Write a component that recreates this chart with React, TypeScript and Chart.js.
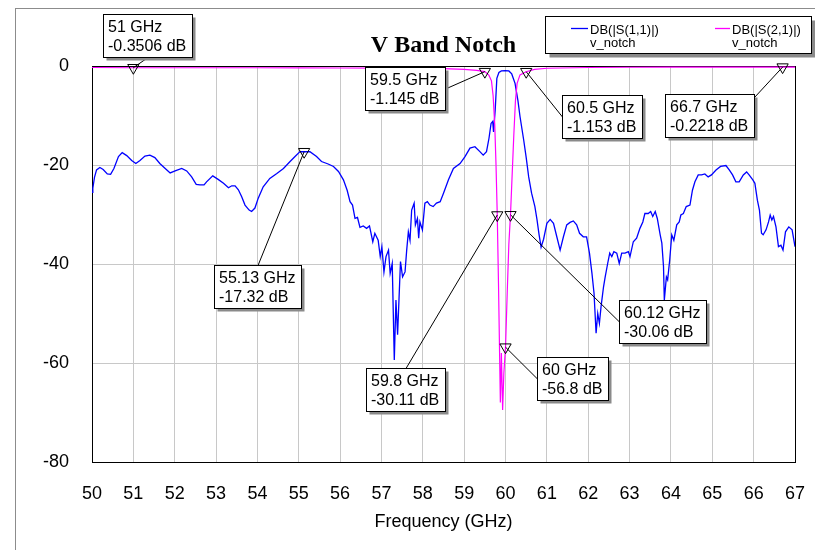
import React, { useEffect, useRef } from "react";
import { Chart, registerables } from "chart.js";

Chart.register(...registerables);

// ---------- data ----------
const TITLE = "V Band Notch";
const X_TITLE = "Frequency (GHz)";
const SERIES_NAMES = ["DB(|S(1,1)|)", "DB(|S(2,1)|)"];
const SERIES_SOURCE = "v_notch";

const X_TICKS = [50, 51, 52, 53, 54, 55, 56, 57, 58, 59, 60, 61, 62, 63, 64, 65, 66, 67];
const Y_TICKS = [0, -20, -40, -60, -80];

const S11_FREQ = [
  50.0, 50.02, 50.06, 50.11, 50.19, 50.27, 50.37, 50.45, 50.53, 50.64, 50.73, 50.84, 50.96, 51.06, 51.16, 51.28,
  51.4, 51.52, 51.64, 51.77, 51.89, 52.01, 52.17, 52.29, 52.41, 52.52, 52.61, 52.71, 52.77, 52.92, 53.05, 53.18,
  53.3, 53.38, 53.46, 53.54, 53.62, 53.7, 53.8, 53.86, 53.94, 54.02, 54.14, 54.3, 54.47, 54.63, 54.79, 54.91,
  55.03, 55.13, 55.27, 55.43, 55.55, 55.71, 55.84, 55.96, 56.08, 56.17, 56.24, 56.3, 56.36, 56.42, 56.48, 56.56,
  56.64, 56.71, 56.79, 56.84, 56.92, 56.97, 57.01, 57.06, 57.11, 57.17, 57.21, 57.26, 57.31, 57.35, 57.39, 57.46,
  57.51, 57.57, 57.61, 57.65, 57.69, 57.73, 57.79, 57.82, 57.87, 57.9, 57.93, 57.99, 58.05, 58.11, 58.17, 58.25,
  58.33, 58.42, 58.5, 58.62, 58.74, 58.9, 59.02, 59.14, 59.26, 59.38, 59.46, 59.54, 59.6, 59.65, 59.69, 59.71,
  59.75, 59.79, 59.84, 59.9, 59.99, 60.08, 60.15, 60.23, 60.3, 60.35, 60.44, 60.5, 60.56, 60.63, 60.71, 60.76,
  60.81, 60.86, 60.92, 61.0, 61.08, 61.16, 61.24, 61.32, 61.4, 61.48, 61.56, 61.64, 61.72, 61.79, 61.88, 61.96,
  62.03, 62.09, 62.14, 62.19, 62.23, 62.27, 62.31, 62.37, 62.41, 62.47, 62.52, 62.57, 62.62, 62.69, 62.75, 62.81,
  62.89, 62.97, 63.01, 63.09, 63.17, 63.25, 63.32, 63.37, 63.45, 63.51, 63.56, 63.62, 63.67, 63.74, 63.78, 63.82,
  63.84, 63.89, 63.92, 63.97, 64.02, 64.07, 64.14, 64.2, 64.24, 64.3, 64.37, 64.46, 64.52, 64.58, 64.66, 64.74,
  64.82, 64.9, 64.98, 65.09, 65.2, 65.33, 65.41, 65.49, 65.57, 65.65, 65.75, 65.83, 65.89, 65.98, 66.03, 66.09,
  66.14, 66.19, 66.23, 66.3, 66.36, 66.4, 66.44, 66.48, 66.54, 66.6, 66.66, 66.71, 66.77, 66.85, 66.93, 67.0,
];
const S11_DB = [
  -25.5, -24.7, -22.5, -21.0, -20.5, -20.9, -21.8, -21.9, -20.7, -18.3, -17.5, -18.1, -19.1, -19.7, -19.1, -18.2,
  -18.0, -18.5, -19.7, -20.7, -21.6, -21.2, -20.7, -21.2, -22.4, -23.9, -24.0, -24.0, -23.4, -22.2, -22.9, -23.7,
  -24.6, -24.2, -24.2, -25.0, -26.4, -28.1, -29.1, -29.4, -28.7, -26.7, -24.4, -22.7, -21.7, -20.7, -19.3, -18.3,
  -17.3, -17.32, -17.3, -18.3, -19.3, -19.8, -20.3, -21.3, -23.0, -25.1, -27.4, -28.1, -30.8, -30.6, -32.6, -32.3,
  -32.8, -32.3, -35.5, -33.8, -35.2, -38.5, -36.5, -41.6, -38.5, -37.2, -41.9, -39.9, -59.4, -47.3, -54.3, -39.5,
  -42.6, -41.6, -37.2, -33.5, -35.2, -29.1, -27.7, -32.1, -30.8, -34.8, -31.5, -33.1, -27.7, -27.4, -28.1, -28.4,
  -27.7, -27.4, -25.7, -23.0, -20.7, -19.7, -18.3, -16.6, -16.3, -17.3, -18.0, -17.3, -14.6, -11.6, -11.2, -13.3,
  -8.9, -2.5, -1.3, -1.0, -0.95, -1.0, -1.6, -3.5, -7.0, -10.2, -15.0, -18.5, -22.4, -25.7, -28.4, -31.0,
  -34.0, -36.6, -35.0, -31.8, -31.0, -31.8, -34.5, -37.2, -34.5, -32.1, -31.6, -31.3, -32.1, -33.8, -34.5, -34.5,
  -37.8, -41.9, -45.9, -54.0, -50.0, -52.0, -48.6, -44.6, -42.6, -39.9, -37.8, -38.5, -37.5, -37.8, -39.9, -37.8,
  -37.8, -37.5, -38.5, -35.5, -34.8, -32.8, -31.5, -29.8, -29.8, -29.4, -30.4, -29.4, -30.8, -34.1, -35.8, -40.5,
  -47.3, -42.6, -43.2, -39.2, -34.1, -35.2, -32.1, -31.5, -30.1, -29.8, -28.4, -28.1, -25.1, -23.4, -22.0, -22.0,
  -21.8, -22.4, -22.0, -21.0, -20.3, -20.1, -21.0, -22.0, -23.4, -23.4, -22.0, -21.4, -22.0, -23.0, -23.7, -27.1,
  -29.1, -33.8, -34.1, -33.1, -31.5, -30.1, -31.1, -30.4, -32.5, -36.5, -36.2, -37.2, -33.5, -32.5, -33.1, -36.5,
];

const S21_FREQ = [
  50.0, 51.0, 52.0, 53.0, 54.0, 55.0, 56.0, 57.0, 58.0, 58.5, 59.0, 59.3, 59.5, 59.6, 59.66, 59.7,
  59.74, 59.77, 59.8, 59.83, 59.86, 59.875, 59.9, 59.93, 59.96, 60.0, 60.04, 60.08, 60.12, 60.16, 60.2, 60.24,
  60.28, 60.35, 60.5, 60.7, 61.0, 62.0, 63.0, 64.0, 65.0, 66.0, 66.7, 67.0,
];
const S21_DB = [
  -0.3, -0.35, -0.35, -0.35, -0.35, -0.38, -0.4, -0.42, -0.48, -0.55, -0.7, -0.9, -1.145, -1.9, -3.0, -6.0,
  -12.0, -20.0, -30.11, -44.0, -60.0, -68.0, -58.0, -69.5, -62.0, -56.8, -46.0, -36.0, -30.06, -22.0, -14.0, -7.0,
  -3.5, -1.8, -1.153, -0.7, -0.45, -0.3, -0.25, -0.23, -0.22, -0.22, -0.2218, -0.22,
];

// markers: frequency (GHz), value (dB)
const MARKER_FREQ = [51, 59.5, 60.5, 66.7, 55.13, 59.8, 60, 60.12];
const MARKER_DB = [-0.3506, -1.145, -1.153, -0.2218, -17.32, -30.11, -56.8, -30.06];

// annotation box layout (top-left corner in data coordinates, attach point of the leader)
const BOX_FREQ = [50.266, 56.602, 61.366, 63.857, 52.95, 56.626, 60.761, 62.744];
const BOX_DB = [10.51, -0.2, -5.86, -5.66, -40.2, -61.01, -58.79, -47.27];
const BOX_SIDE = ["bottom", "right", "left", "topright", "top", "top", "left", "left"];

const FONT = "'Liberation Sans', Arial, sans-serif";
const BLUE = "#0000ff";
const MAGENTA = "#ff00ff";

const decorPlugin = {
  id: "decor",
  beforeDraw(chart: any) {
    const ctx = chart.ctx;
    ctx.save();
    ctx.fillStyle = "#ffffff";
    ctx.fillRect(0, 0, chart.width, chart.height);
    ctx.strokeStyle = "#8c8c8c";
    ctx.lineWidth = 1;
    ctx.strokeRect(15.5, 8.5, chart.width + 20, chart.height + 20);
    ctx.restore();
  },
  beforeDatasetsDraw(chart: any) {
    const { ctx, chartArea: a } = chart;
    ctx.save();
    ctx.strokeStyle = "#000";
    ctx.lineWidth = 1;
    ctx.strokeRect(Math.round(a.left) + 0.5, Math.round(a.top) + 0.5, Math.round(a.right - a.left), Math.round(a.bottom - a.top));
    ctx.restore();
  },
  afterDatasetsDraw(chart: any) {
    const { ctx } = chart;
    const xs = chart.scales.x;
    const ys = chart.scales.y;
    ctx.save();
    ctx.font = `16px ${FONT}`;
    const boxes = MARKER_FREQ.map((f, i) => {
      const l1 = `${f} GHz`;
      const l2 = `${MARKER_DB[i]} dB`;
      const w = Math.round(Math.max(ctx.measureText(l1).width, ctx.measureText(l2).width) + 11);
      const h = 43;
      const bx = Math.round(xs.getPixelForValue(BOX_FREQ[i])) + 0.5;
      const by = Math.round(ys.getPixelForValue(BOX_DB[i])) + 0.5;
      const px = xs.getPixelForValue(f);
      const py = ys.getPixelForValue(MARKER_DB[i]);
      let ax = bx + w / 2, ay = by + h / 2;
      const side = BOX_SIDE[i];
      if (side === "bottom") ay = by + h;
      else if (side === "top") ay = by;
      else if (side === "left") ax = bx;
      else if (side === "right") ax = bx + w;
      else if (side === "topright") { ax = bx + w; ay = by + 3; }
      return { l1, l2, w, h, bx, by, px, py, ax, ay };
    });
    // leader lines
    ctx.strokeStyle = "#000";
    ctx.lineWidth = 1;
    boxes.forEach((b) => {
      ctx.beginPath();
      ctx.moveTo(b.px, b.py);
      ctx.lineTo(b.ax, b.ay);
      ctx.stroke();
    });
    // boxes
    boxes.forEach((b) => {
      ctx.fillStyle = "#8a8a8a";
      ctx.fillRect(b.bx + 3, b.by + 3, b.w, b.h);
      ctx.fillStyle = "#fff";
      ctx.fillRect(b.bx, b.by, b.w, b.h);
      ctx.strokeStyle = "#000";
      ctx.strokeRect(b.bx, b.by, b.w, b.h);
      ctx.fillStyle = "#000";
      ctx.textBaseline = "alphabetic";
      ctx.textAlign = "left";
      ctx.fillText(b.l1, b.bx + 4.5, b.by + 17.5);
      ctx.fillText(b.l2, b.bx + 4.5, b.by + 36);
    });

    // legend
    const lx = 545.5, ly = 16.5, lw = 266, lh = 37;
    ctx.fillStyle = "#8a8a8a";
    ctx.fillRect(lx + 4, ly + 4, lw, lh);
    ctx.fillStyle = "#fff";
    ctx.fillRect(lx, ly, lw, lh);
    ctx.strokeStyle = "#000";
    ctx.strokeRect(lx, ly, lw, lh);
    ctx.font = `13px ${FONT}`;
    const cols = [
      { x0: 571, x1: 588, tx: 590, color: BLUE },
      { x0: 715, x1: 730, tx: 732, color: MAGENTA },
    ];
    cols.forEach((c, i) => {
      ctx.strokeStyle = c.color;
      ctx.lineWidth = 1.3;
      ctx.beginPath();
      ctx.moveTo(c.x0, 28.5);
      ctx.lineTo(c.x1, 28.5);
      ctx.stroke();
      ctx.fillStyle = "#000";
      ctx.fillText(SERIES_NAMES[i], c.tx, 33.5);
      ctx.fillText(SERIES_SOURCE, c.tx, 47);
    });

    // title
    ctx.font = "bold 24px 'Liberation Serif', 'Times New Roman', serif";
    ctx.textAlign = "center";
    ctx.fillStyle = "#000";
    ctx.fillText(TITLE, (chart.chartArea.left + chart.chartArea.right) / 2, 52);
    ctx.restore();
  },
};

export default function App() {
  const ref = useRef<HTMLCanvasElement | null>(null);
  useEffect(() => {
    if (!ref.current) return;
    const s11 = S11_FREQ.map((f, i) => ({ x: f, y: S11_DB[i] }));
    const s21 = S21_FREQ.map((f, i) => ({ x: f, y: S21_DB[i] }));
    const mk = MARKER_FREQ.map((f, i) => ({ x: f, y: MARKER_DB[i] }));
    const chart = new Chart(ref.current, {
      type: "line",
      data: {
        datasets: [
          {
            label: SERIES_NAMES[0],
            data: s11,
            borderColor: BLUE,
            borderWidth: 1.3,
            pointRadius: 0,
            tension: 0,
            order: 2,
          },
          {
            label: SERIES_NAMES[1],
            data: s21,
            borderColor: MAGENTA,
            borderWidth: 1.2,
            pointRadius: 0,
            tension: 0,
            order: 1,
          },
          {
            label: "markers",
            data: mk,
            showLine: false,
            pointStyle: "triangle",
            rotation: 180,
            pointRadius: 6.5,
            pointBorderColor: "#000",
            pointBackgroundColor: "rgba(0,0,0,0)",
            pointBorderWidth: 1,
            clip: false as any,
            order: 0,
          } as any,
        ],
      },
      options: {
        responsive: false,
        animation: false,
        devicePixelRatio: 1,
        parsing: false as any,
        layout: { padding: { top: 66, right: 20, left: 0, bottom: 0 } },
        plugins: {
          legend: { display: false },
          title: { display: false },
          tooltip: { enabled: false },
        },
        scales: {
          x: {
            type: "linear",
            min: X_TICKS[0],
            max: X_TICKS[X_TICKS.length - 1],
            afterBuildTicks: (s: any) => {
              s.ticks = X_TICKS.map((v) => ({ value: v }));
            },
            ticks: {
              autoSkip: false,
              maxRotation: 0,
              padding: 21,
              color: "#000",
              font: { family: FONT, size: 18 },
              callback: (v: any) => String(v),
            },
            grid: { color: "#c8c8c8", lineWidth: 1, drawTicks: false },
            border: { color: "#000", width: 1 },
            title: {
              display: true,
              text: X_TITLE,
              color: "#000",
              font: { family: FONT, size: 18 },
              padding: { top: 0, bottom: 17 },
            },
            afterFit: (s: any) => {
              s.height = 88;
              s.paddingLeft = 0;
              s.paddingRight = 0;
            },
          },
          y: {
            type: "linear",
            min: Y_TICKS[Y_TICKS.length - 1],
            max: Y_TICKS[0],
            afterBuildTicks: (s: any) => {
              s.ticks = Y_TICKS.slice().reverse().map((v) => ({ value: v }));
            },
            ticks: {
              padding: 23,
              color: "#000",
              font: { family: FONT, size: 18 },
              callback: (v: any) => String(v),
            },
            grid: { color: "#c8c8c8", lineWidth: 1, drawTicks: false },
            border: { color: "#000", width: 1 },
            afterFit: (s: any) => {
              s.width = 92;
              s.paddingTop = 0;
              s.paddingBottom = 0;
            },
          },
        },
      } as any,
      plugins: [decorPlugin],
    });
    return () => chart.destroy();
  }, []);
  return (
    <div style={{ position: "fixed", left: 0, top: 0, width: 815, height: 550, background: "#fff" }}>
      <canvas ref={ref} width={815} height={550} style={{ width: 815, height: 550, display: "block" }} />
    </div>
  );
}
